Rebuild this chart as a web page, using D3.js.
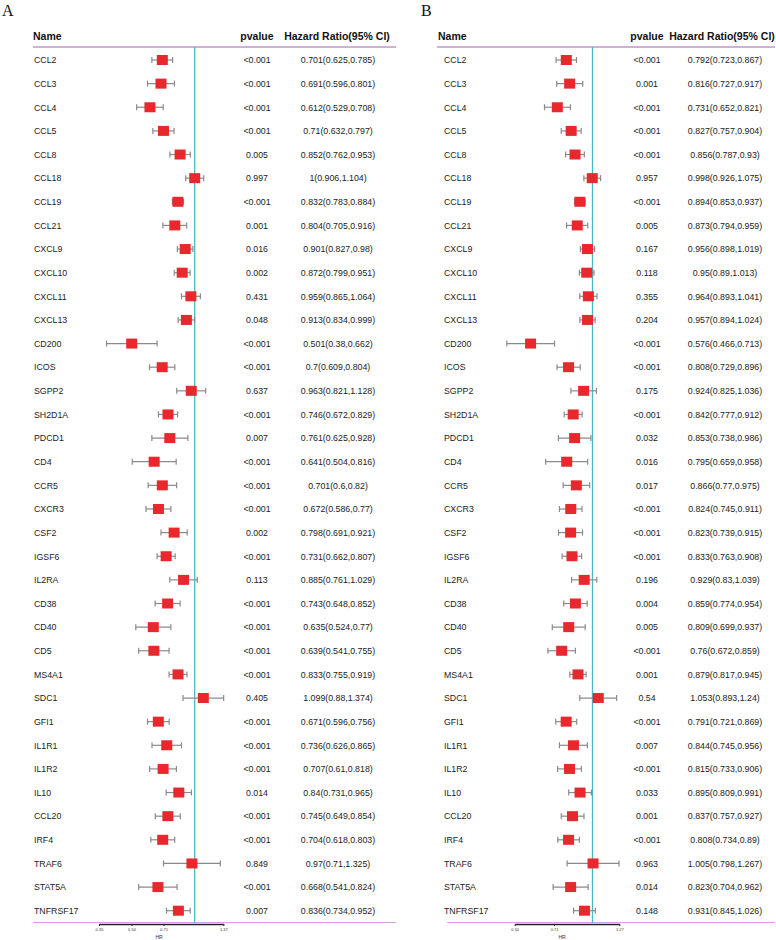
<!DOCTYPE html>
<html>
<head>
<meta charset="utf-8">
<script src="https://cdn.jsdelivr.net/npm/d3@7"></script>
<style>
  body { margin: 0; background: white; }
  text { font-family: "Liberation Sans", Arial, sans-serif; }
</style>
</head>
<body>
<div id="container"></div>
<script>
let w = 776;
let h = 940;

// DATA
let genes = ["CCL2","CCL3","CCL4","CCL5","CCL8","CCL18","CCL19","CCL21","CXCL9","CXCL10","CXCL11","CXCL13","CD200","ICOS","SGPP2","SH2D1A","PDCD1","CD4","CCR5","CXCR3","CSF2","IGSF6","IL2RA","CD38","CD40","CD5","MS4A1","SDC1","GFI1","IL1R1","IL1R2","IL10","CCL20","IRF4","TRAF6","STAT5A","TNFRSF17"];

// panel A
let pA = ["<0.001","<0.001","<0.001","<0.001","0.005","0.997","<0.001","0.001","0.016","0.002","0.431","0.048","<0.001","<0.001","0.637","<0.001","0.007","<0.001","<0.001","<0.001","0.002","<0.001","0.113","<0.001","<0.001","<0.001","<0.001","0.405","<0.001","<0.001","<0.001","0.014","<0.001","<0.001","0.849","<0.001","0.007"];
let hrA = [0.701,0.691,0.612,0.71,0.852,1,0.832,0.804,0.901,0.872,0.959,0.913,0.501,0.7,0.963,0.746,0.761,0.641,0.701,0.672,0.798,0.731,0.885,0.743,0.635,0.639,0.833,1.099,0.671,0.736,0.707,0.84,0.745,0.704,0.97,0.668,0.836];
let lowA = [0.625,0.596,0.529,0.632,0.762,0.906,0.783,0.705,0.827,0.799,0.865,0.834,0.38,0.609,0.821,0.672,0.625,0.504,0.6,0.586,0.691,0.662,0.761,0.648,0.524,0.541,0.755,0.88,0.596,0.626,0.61,0.731,0.649,0.618,0.71,0.541,0.734];
let highA = [0.785,0.801,0.708,0.797,0.953,1.104,0.884,0.916,0.98,0.951,1.064,0.999,0.662,0.804,1.128,0.829,0.928,0.816,0.82,0.77,0.921,0.807,1.029,0.852,0.77,0.755,0.919,1.374,0.756,0.865,0.818,0.965,0.854,0.803,1.325,0.824,0.952];
let ticksA = [0.35,0.50,0.71,1.37];

// panel B
let pB = ["<0.001","0.001","<0.001","<0.001","<0.001","0.957","<0.001","0.005","0.167","0.118","0.355","0.204","<0.001","<0.001","0.175","<0.001","0.032","0.016","0.017","<0.001","<0.001","<0.001","0.196","0.004","0.005","<0.001","0.001","0.54","<0.001","0.007","<0.001","0.033","0.001","<0.001","0.963","0.014","0.148"];
let hrB = [0.792,0.816,0.731,0.827,0.856,0.998,0.894,0.873,0.956,0.95,0.964,0.957,0.576,0.808,0.924,0.842,0.853,0.795,0.866,0.824,0.823,0.833,0.929,0.859,0.809,0.76,0.879,1.053,0.791,0.844,0.815,0.895,0.837,0.808,1.005,0.823,0.931];
let lowB = [0.723,0.727,0.652,0.757,0.787,0.926,0.853,0.794,0.898,0.89,0.893,0.894,0.466,0.729,0.825,0.777,0.738,0.659,0.77,0.745,0.739,0.763,0.83,0.774,0.699,0.672,0.817,0.893,0.721,0.745,0.733,0.809,0.757,0.734,0.798,0.704,0.845];
let highB = [0.867,0.917,0.821,0.904,0.93,1.075,0.937,0.959,1.019,1.013,1.041,1.024,0.713,0.896,1.036,0.912,0.986,0.958,0.975,0.911,0.915,0.908,1.039,0.954,0.937,0.859,0.945,1.24,0.869,0.956,0.906,0.991,0.927,0.89,1.267,0.962,1.026];
let ticksB = [0.50,0.71,1.27];

let viz = d3.select("#container").append("svg")
    .attr("width", w)
    .attr("height", h)
    .style("background-color", "white");

let yScale = d3.scalePoint().domain(genes).range([60, 910.7]);

function panel(opt) {
  let g = viz.append("g");
  let rows = genes.map(function(d, i) {
    return {name: d, p: opt.p[i], hr: opt.hr[i], lo: opt.low[i], hi: opt.high[i]};
  });
  let xScale = d3.scaleLog().domain([opt.ticks[0], opt.ticks[opt.ticks.length - 1]]).range(opt.xr);

  // letter
  g.append("text").attr("x", opt.letterX).attr("y", 16)
    .style("font-family", "'Liberation Serif', 'DejaVu Serif', serif")
    .style("font-size", "16px").attr("fill", "#111").text(opt.letter);

  // header
  g.append("text").attr("x", opt.nameX).attr("y", 40).text("Name")
    .style("font-size", "10.5px").style("font-weight", "bold").attr("fill", "#111");
  g.append("text").attr("x", opt.pX).attr("y", 40).text("pvalue")
    .attr("text-anchor", "middle")
    .style("font-size", "10.5px").style("font-weight", "bold").attr("fill", "#111");
  g.append("text").attr("x", opt.hrHeadX).attr("y", 40).text("Hazard Ratio(95% CI)")
    .attr("text-anchor", "middle")
    .style("font-size", "10.5px").style("font-weight", "bold").attr("fill", "#111");

  g.append("line").attr("x1", opt.lineX[0]).attr("x2", opt.lineX[1])
    .attr("y1", 47).attr("y2", 47)
    .attr("stroke", "#a460b0").attr("stroke-width", 1.2);
  g.append("line").attr("x1", opt.botX[0]).attr("x2", opt.botX[1])
    .attr("y1", 922.5).attr("y2", 922.5)
    .attr("stroke", "#d4a3da").attr("stroke-width", 1.2);

  // reference line at HR = 1
  g.append("line").attr("x1", xScale(1)).attr("x2", xScale(1))
    .attr("y1", 47).attr("y2", 923)
    .attr("stroke", "#4cb8c6").attr("stroke-width", 1.3);

  // text columns
  g.selectAll(".nm").data(rows).enter().append("text")
    .attr("x", opt.rowX).attr("y", function(d) { return yScale(d.name) + 3.3; })
    .text(function(d) { return d.name; })
    .style("font-size", "8.8px").attr("fill", "#222");
  g.selectAll(".pv").data(rows).enter().append("text")
    .attr("x", opt.pX).attr("y", function(d) { return yScale(d.name) + 3.3; })
    .attr("text-anchor", "middle")
    .text(function(d) { return d.p; })
    .style("font-size", "8.8px").attr("fill", "#222");
  g.selectAll(".hr").data(rows).enter().append("text")
    .attr("x", opt.hrX).attr("y", function(d) { return yScale(d.name) + 3.3; })
    .attr("text-anchor", "middle")
    .text(function(d) { return d.hr + "(" + d.lo + "," + d.hi + ")"; })
    .style("font-size", "8.8px").attr("fill", "#222");

  // error bars
  g.selectAll(".ci").data(rows).enter().append("line")
    .attr("x1", function(d) { return xScale(d.lo); })
    .attr("x2", function(d) { return xScale(d.hi); })
    .attr("y1", function(d) { return yScale(d.name); })
    .attr("y2", function(d) { return yScale(d.name); })
    .attr("stroke", "#8a8a8a").attr("stroke-width", 1.2);
  ["lo", "hi"].forEach(function(k) {
    g.selectAll(".cap" + k).data(rows).enter().append("line")
      .attr("x1", function(d) { return xScale(d[k]); })
      .attr("x2", function(d) { return xScale(d[k]); })
      .attr("y1", function(d) { return yScale(d.name) - 3; })
      .attr("y2", function(d) { return yScale(d.name) + 3; })
      .attr("stroke", "#8a8a8a").attr("stroke-width", 1.2);
  });

  // boxes
  g.selectAll(".box").data(rows).enter().append("rect")
    .attr("x", function(d) { return xScale(d.hr) - 5.5; })
    .attr("y", function(d) { return yScale(d.name) - 5; })
    .attr("width", 11).attr("height", 10)
    .attr("fill", "#e8282c");

  // axis
  let axis = d3.axisBottom(xScale).tickValues(opt.ticks)
    .tickFormat(d3.format(".2f")).tickSize(2).tickSizeOuter(0);
  let ax = g.append("g").attr("transform", "translate(0,924)").call(axis);
  ax.select(".domain").attr("stroke", "#222").attr("stroke-width", 1.6);
  ax.selectAll(".tick line").attr("stroke", "#222");
  ax.selectAll(".tick text").attr("y", 4).style("font-size", "4px").attr("fill", "#333");
  g.append("text").attr("x", opt.hrLabelX).attr("y", 939).text("HR")
    .attr("text-anchor", "middle").style("font-size", "5px").attr("fill", "#333");
}

panel({
  letter: "A", letterX: 2, nameX: 33, rowX: 34, pX: 257, hrX: 338, hrHeadX: 337,
  lineX: [33, 396], botX: [33, 396],
  p: pA, hr: hrA, low: lowA, high: highA, ticks: ticksA,
  xr: [99, 223.4], hrLabelX: 159
});

panel({
  letter: "B", letterX: 421, nameX: 438, rowX: 444, pX: 647, hrX: 725, hrHeadX: 722,
  lineX: [437, 775], botX: [447, 775],
  p: pB, hr: hrB, low: lowB, high: highB, ticks: ticksB,
  xr: [514.7, 619.3], hrLabelX: 562
});
</script>
</body>
</html>
